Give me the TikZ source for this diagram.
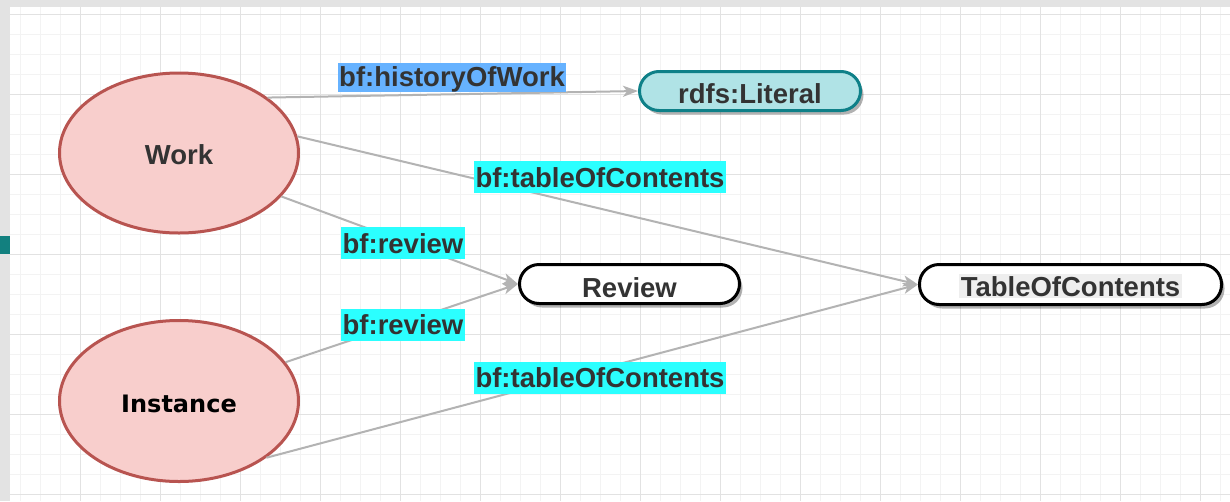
\documentclass[tikz,border=0pt]{standalone}
\usepackage{fontspec}
\setmainfont{Liberation Sans}
\newfontfamily\instfont{DejaVu Sans}
\usetikzlibrary{arrows.meta,shapes.geometric,shadows}
\definecolor{outerbg}{HTML}{E3E3E3}
\definecolor{gridminor}{HTML}{F3F3F3}
\definecolor{gridmajor}{HTML}{E2E2E2}
\definecolor{ellfill}{HTML}{F8CECC}
\definecolor{elldraw}{HTML}{B85450}
\definecolor{litfill}{HTML}{B0E3E6}
\definecolor{litdraw}{HTML}{0E8088}
\definecolor{edgegray}{HTML}{B3B3B3}
\definecolor{txt}{HTML}{333333}
\definecolor{lblblue}{HTML}{66B2FF}
\definecolor{lblcyan}{HTML}{2BFFFF}
\definecolor{tocbg}{HTML}{EEEEEE}
\definecolor{tealmark}{HTML}{12807F}
\begin{document}
\begin{tikzpicture}[x=1pt,y=-1pt,
  every node/.style={font=\bfseries\fontsize{27.5}{33}\selectfont, text=txt},
  classnode/.style={ellipse, draw=elldraw, fill=ellfill, line width=3pt, inner sep=0pt,
    minimum width=239pt, minimum height=160pt, text height=22pt, text depth=0pt},
  pill/.style={rectangle, rounded corners=19.5pt, line width=3pt, inner sep=0pt,
    minimum height=39pt, text height=24pt, text depth=0pt,
    drop shadow={shadow xshift=3pt, shadow yshift=-4pt, fill=black, opacity=0.3}},
  litnode/.style={pill, draw=litdraw, fill=litfill, minimum width=221pt},
  plainpill/.style={pill, draw=black, fill=white},
  conn/.style={draw=edgegray, line width=2pt, -{Stealth[length=15pt,width=11pt,inset=4pt]}},
  edgelabel/.style={inner xsep=1.5pt, inner ysep=3pt, text height=23pt, text depth=3pt},
  minorline/.style={draw=gridminor, line width=1pt},
  majorline/.style={draw=gridmajor, line width=1pt}
]
\useasboundingbox (0,0) rectangle (1230,501);
% outer background and canvas
\fill[outerbg] (0,0) rectangle (1230,501);
\fill[white] (10,7) rectangle (1230,501);
\foreach \x in {20,40,...,1220} \draw[minorline] (\x,7) -- (\x,501);
\foreach \y in {14,34,...,494} \draw[minorline] (10,\y) -- (1230,\y);
\foreach \x in {80,160,...,1200} \draw[majorline] (\x,7) -- (\x,501);
\foreach \y in {14,94,...,494} \draw[majorline] (10,\y) -- (1230,\y);
\fill[tealmark] (0,236) rectangle (10,254);

% nodes
\node[classnode] (work) at (179,153) {Work};
\node[classnode, minimum height=161pt] (inst) at (179,401) {\instfont\bfseries\fontsize{24}{29}\selectfont\color{black}Instance};
\node[litnode] (lit) at (750,91) {rdfs:Literal};
\node[plainpill, minimum width=220pt, text height=26pt] (rev) at (629.5,284) {Review};
\node[plainpill, minimum width=302pt, minimum height=40pt, text height=25pt, text depth=2pt] (toc) at (1070.5,284.5)
  {\setlength{\fboxsep}{2pt}\colorbox{tocbg}{TableOfContents}};

% connectors
\draw[conn] (work.32) -- (lit.west);
\draw[conn] (work.8) -- (toc.west);
\draw[conn] (work.-23) -- (rev.west);
\draw[conn] (inst.20) -- (rev.west);
\draw[conn] (inst.-33.5) -- (toc.west);

% labels
\node[edgelabel, fill=lblblue, inner ysep=2pt, text height=21.5pt, text depth=3.5pt] (lhist) at (452,77.5) {bf:historyOfWork};
\node[edgelabel, fill=lblcyan] (ltoc1) at (600,177) {bf:tableOfContents};
\node[edgelabel, fill=lblcyan] (lrev1) at (403,243) {bf:review};
\node[edgelabel, fill=lblcyan] (lrev2) at (403,324.5) {bf:review};
\node[edgelabel, fill=lblcyan] (ltoc2) at (600,377.5) {bf:tableOfContents};
\end{tikzpicture}
\end{document}
